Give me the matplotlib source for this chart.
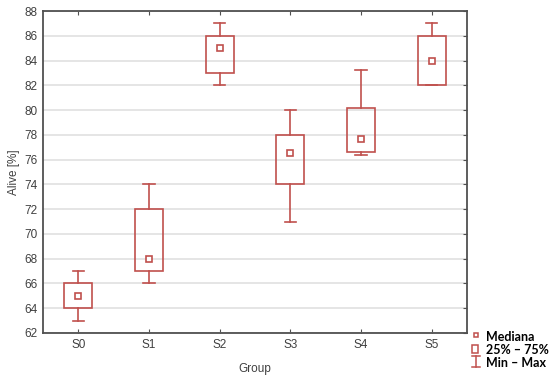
import matplotlib.pyplot as plt
from matplotlib.patches import Rectangle
from matplotlib.lines import Line2D

plt.rcParams['font.family'] = ['Liberation Sans', 'DejaVu Sans']

groups = ["S0", "S1", "S2", "S3", "S4", "S5"]
v_min = [63, 66, 82, 71, 76.4, 82]
v_q1 = [64, 67, 83, 74, 76.6, 82]
v_med = [65, 68, 85, 76.5, 77.7, 84]
v_q3 = [66, 72, 86, 78, 80.2, 86]
v_max = [67, 74, 87, 80, 83.2, 87]

red = "#c0504d"
txt = "#404040"

fig = plt.figure(figsize=(5.5, 3.77), dpi=100)
ax = fig.add_axes([43 / 550, 1 - 333 / 377, 424 / 550, 322 / 377])

bw = 0.4
cw = 0.16
for i in range(len(groups)):
    ax.add_patch(Rectangle((i - bw / 2, v_q1[i]), bw, v_q3[i] - v_q1[i],
                           fill=False, edgecolor=red, lw=1.2, zorder=3))
    ax.plot([i, i], [v_q3[i], v_max[i]], color=red, lw=1.2, zorder=3)
    ax.plot([i, i], [v_min[i], v_q1[i]], color=red, lw=1.2, zorder=3)
    ax.plot([i - cw / 2, i + cw / 2], [v_max[i], v_max[i]], color=red, lw=1.2, zorder=3)
    ax.plot([i - cw / 2, i + cw / 2], [v_min[i], v_min[i]], color=red, lw=1.2, zorder=3)
    ax.plot(i, v_med[i], marker="s", ms=4.5, mfc="white", mec=red, mew=1.2, zorder=4)

ax.set_xlim(-0.5, 5.5)
ax.set_ylim(62, 88)
ax.set_xticks(range(len(groups)))
ax.set_xticklabels(groups)
ax.set_yticks(range(62, 89, 2))
ax.grid(axis="y", color="#e0e0e0", lw=1.2, zorder=0)
ax.set_axisbelow(True)
ax.tick_params(direction="in", top=True, right=True, length=3, color="#505050",
               labelsize=8.5, labelcolor=txt, pad=4)
ax.tick_params(axis="y", left=False)
for s in ax.spines.values():
    s.set_color("#505050")
    s.set_linewidth(1.3)
ax.set_xlabel("Group", fontsize=8.5, color=txt, labelpad=9)
ax.set_ylabel("Alive [%]", fontsize=8.5, color=txt, labelpad=3)

# legend drawn by hand at the lower right
def fx(px):
    return px / 550

def fy(py):
    return 1 - py / 377

fig.add_artist(Line2D([fx(476)], [fy(335)], marker="s", ms=3.2, mfc="white",
                      mec=red, mew=1.1, transform=fig.transFigure))
fig.add_artist(Rectangle((fx(472), fy(353)), fx(6), 8 / 377, fill=False,
                         edgecolor=red, lw=1.1, transform=fig.transFigure))
fig.add_artist(Line2D([fx(476), fx(476)], [fy(356), fy(367)], color=red, lw=1.1,
                      transform=fig.transFigure))
fig.add_artist(Line2D([fx(472), fx(480)], [fy(356), fy(356)], color=red, lw=1.1,
                      transform=fig.transFigure))
fig.add_artist(Line2D([fx(472), fx(480)], [fy(367), fy(367)], color=red, lw=1.1,
                      transform=fig.transFigure))

leg_labels = ["Mediana", "25% – 75%", "Min – Max"]
leg_y = [337, 350, 363]
for lab, yy in zip(leg_labels, leg_y):
    fig.text(fx(486), fy(yy), lab, fontsize=9, fontweight="bold", color="black",
             family=["Lato", "DejaVu Sans"], va="center", ha="left")

fig.savefig("out.png", dpi=100)
